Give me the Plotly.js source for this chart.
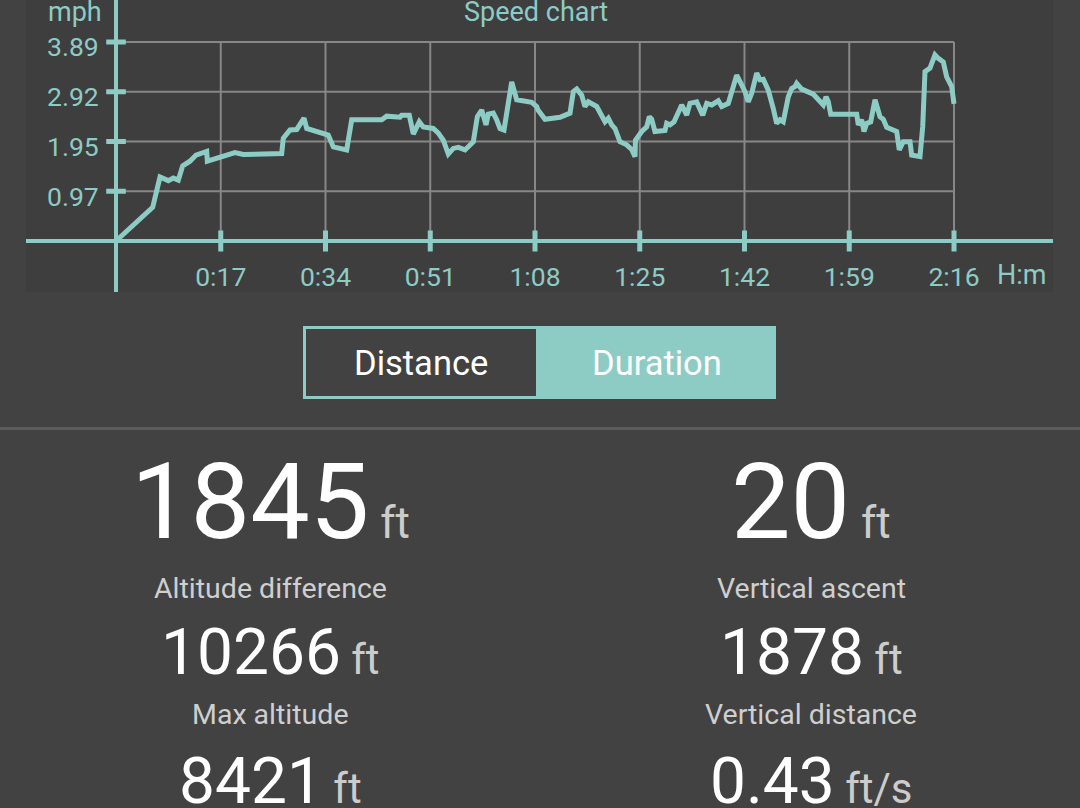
<!DOCTYPE html>
<html>
<head>
<meta charset="utf-8">
<script src="https://cdn.plot.ly/plotly-3.0.1.min.js"></script>
<style>
html,body{margin:0;padding:0;background:#424242;}
#chart{width:1080px;height:808px;}
</style>
</head>
<body>
<div id="chart"></div>
<script>
// ---- data ----
const timeMin = [0,5.96,7.14,8.49,9.30,10.11,10.82,12.01,12.98,14.72,14.82,16.88,19.31,20.66,26.89,27.15,28.24,29.33,30.51,30.95,33.11,34.45,35.27,37.44,38.25,43.12,43.93,46.09,46.37,47.60,48.25,49.22,49.87,51.49,52.31,53.12,53.93,54.74,55.55,56.64,57.99,58.64,59.35,60.05,60.42,61.23,61.78,62.32,62.97,63.67,64.22,65.03,67.46,68.27,68.49,69.62,72.06,73.68,74.22,74.77,75.58,76.11,76.65,78.01,78.82,79.36,79.90,80.45,80.98,81.79,82.88,83.69,84.23,84.3,85.32,86.13,86.55,86.94,87.47,89.10,89.37,89.91,90.56,91.81,92.62,93.15,94.24,94.78,95.22,95.87,96.68,97.75,98.30,99.37,99.92,100.73,101.54,102.08,102.61,103.17,103.98,104.51,105.05,105.86,106.67,107.22,107.76,108.29,109.11,109.66,110.20,110.47,111.28,113.17,114.79,115.23,115.60,115.99,120.21,120.47,121.01,121.39,121.83,122.48,123.18,123.71,123.99,124.53,125.08,126.70,127.12,127.77,128.86,129.13,130.48,130.92,131.29,132.10,132.91,133.45,134.26,134.81,135.62,136.0];
const speedMph = [0,0.66,1.25,1.18,1.23,1.19,1.47,1.56,1.68,1.75,1.56,1.64,1.73,1.69,1.71,2.01,2.17,2.18,2.40,2.20,2.12,2.07,1.84,1.78,2.37,2.37,2.44,2.42,2.46,2.46,2.09,2.33,2.23,2.20,2.11,1.97,1.70,1.81,1.83,1.78,1.94,2.43,2.56,2.27,2.48,2.50,2.37,2.20,2.17,2.69,3.11,2.76,2.71,2.63,2.56,2.38,2.42,2.50,2.92,2.97,2.85,2.63,2.72,2.63,2.43,2.33,2.40,2.27,2.20,1.94,1.88,1.79,1.65,1.97,2.14,2.23,2.43,2.38,2.14,2.16,2.30,2.27,2.33,2.66,2.46,2.69,2.72,2.59,2.46,2.69,2.66,2.74,2.63,2.69,2.89,3.24,3.05,2.92,2.72,2.89,3.28,3.15,3.16,2.95,2.59,2.30,2.37,2.33,2.82,2.98,3.02,3.08,2.97,2.87,2.66,2.82,2.72,2.48,2.48,2.27,2.37,2.14,2.30,2.33,2.76,2.56,2.43,2.38,2.22,2.14,1.78,1.94,1.94,1.68,1.65,2.23,3.31,3.38,3.64,3.57,3.50,3.21,3.02,2.68];

const xTickVals = [17,34,51,68,85,102,119,136];
const xTickText = ['0:17','0:34','0:51','1:08','1:25','1:42','1:59','2:16'];
const yTickVals = [0.9725,1.945,2.9175,3.89];
const yTickText = ['0.97','1.95','2.92','3.89'];

const chartTitle = 'Speed chart';
const yUnit = 'mph';
const xUnit = 'H:m';
const toggleLabels = ['Distance','Duration'];

const leftValues = ['1845','10266','8421'];
const leftUnits = ['ft','ft','ft'];
const leftLabels = ['Altitude difference','Max altitude'];
const rightValues = ['20','1878','0.43'];
const rightUnits = ['ft','ft','ft/s'];
const rightLabels = ['Vertical ascent','Vertical distance'];

// ---- styling / layout helpers ----
const W = 1080, H = 808;
const TEAL = '#8dccc5';
const GRID = '#878787';
const FONT = 'Roboto, "Noto Sans", sans-serif';
const px = v => v / W;
const py = v => 1 - v / H;

const xMax = xTickVals[xTickVals.length - 1];
const yMax = yTickVals[yTickVals.length - 1];

const shapes = [];
yTickVals.forEach(v => shapes.push({type:'line', xref:'x', yref:'y', x0:0, x1:xMax, y0:v, y1:v,
  line:{color:GRID, width:2}, layer:'below'}));
xTickVals.forEach(v => shapes.push({type:'line', xref:'x', yref:'y', x0:v, x1:v, y0:0, y1:yMax,
  line:{color:GRID, width:2}, layer:'below'}));

// toggle button
shapes.push({type:'rect', xref:'paper', yref:'paper', x0:px(536), x1:px(776), y0:py(399), y1:py(326),
  fillcolor:TEAL, line:{width:0}});
shapes.push({type:'rect', xref:'paper', yref:'paper', x0:px(304.5), x1:px(774.5), y0:py(397.5), y1:py(327.5),
  fillcolor:'rgba(0,0,0,0)', line:{color:TEAL, width:3}});
// separator
shapes.push({type:'line', xref:'paper', yref:'paper', x0:0, x1:1, y0:py(428.5), y1:py(428.5),
  line:{color:'#5b5b5b', width:3}});

const annotations = [];
function txt(text, x, y, size, color, xanchor) {
  annotations.push({text, xref:'paper', yref:'paper', x:px(x), y:py(y), xanchor:xanchor||'center', yanchor:'middle',
    showarrow:false, font:{family:FONT, size, color}});
}
txt(chartTitle, 536, 12, 27, TEAL);
txt(yUnit, 75, 12, 27, TEAL);
txt(xUnit, 1021, 275, 27, TEAL);
txt(toggleLabels[0], 421, 363, 34.5, '#ffffff');
txt(toggleLabels[1], 657, 363, 34.5, '#ffffff');

const valueRowsY = [502, 652, 781];
const valueSizes = [106, 64, 64];
const unitSizes = [44, 42, 42];
const labelRowsY = [588, 714];
function statCol(values, units, labels, cx) {
  values.forEach((v, i) => {
    txt(v + '<span style="font-size:' + unitSizes[i] + 'px;color:#cccccc"> ' + units[i] + '</span>',
      cx, valueRowsY[i], valueSizes[i], '#ffffff');
  });
  labels.forEach((l, i) => txt(l, cx, labelRowsY[i], 28.5, '#cfcfcf'));
}
statCol(leftValues, leftUnits, leftLabels, 270);
statCol(rightValues, rightUnits, rightLabels, 811);

// ---- traces ----
const traces = [
  {x: timeMin, y: speedMph, type:'scatter', mode:'lines', line:{color:TEAL, width:5}, hoverinfo:'skip'},
  {x: xTickVals, y: xTickVals.map(() => 0), type:'scatter', mode:'markers',
    marker:{symbol:'line-ns', size:15, line:{color:TEAL, width:5}}, hoverinfo:'skip'},
  {x: yTickVals.map(() => 0), y: yTickVals, type:'scatter', mode:'markers',
    marker:{symbol:'line-ew', size:14, line:{color:TEAL, width:5}}, hoverinfo:'skip'}
];

// pixel geometry of the chart panel
const panelL = 26, panelR = 1053, panelT = 0, panelB = 292;
const originX = 116, originY = 241, endX = 954, topY = 42;
const pxPerMin = (endX - originX) / xMax;
const pxPerMph = (originY - topY) / yMax;

const layout = {
  width: W, height: H,
  margin: {l:0, r:0, t:0, b:0, pad:0},
  paper_bgcolor: '#424242',
  plot_bgcolor: '#3e3e3e',
  showlegend: false,
  font: {family: FONT, color: TEAL},
  xaxis: {
    domain: [px(panelL), px(panelR)],
    range: [(panelL - originX) / pxPerMin, (panelR - originX) / pxPerMin],
    anchor: 'free', position: py(originY),
    showgrid: false, zeroline: false,
    showline: true, linecolor: TEAL, linewidth: 4,
    ticks: '', tickvals: xTickVals, ticktext: xTickText,
    tickfont: {family: FONT, size: 26.5, color: TEAL},
    ticklabelstandoff: 11,
    fixedrange: true
  },
  yaxis: {
    domain: [py(panelB), py(panelT)],
    range: [(originY - panelB) / pxPerMph, (originY - panelT) / pxPerMph],
    anchor: 'free', position: px(originX),
    showgrid: false, zeroline: false,
    showline: true, linecolor: TEAL, linewidth: 4,
    ticks: '', tickvals: yTickVals, ticktext: yTickText,
    tickfont: {family: FONT, size: 26.5, color: TEAL},
    ticklabelstandoff: 10,
    ticklabelshift: 5,
    fixedrange: true
  },
  shapes, annotations
};

Plotly.newPlot('chart', traces, layout, {staticPlot: true, displayModeBar: false});
</script>
</body>
</html>
